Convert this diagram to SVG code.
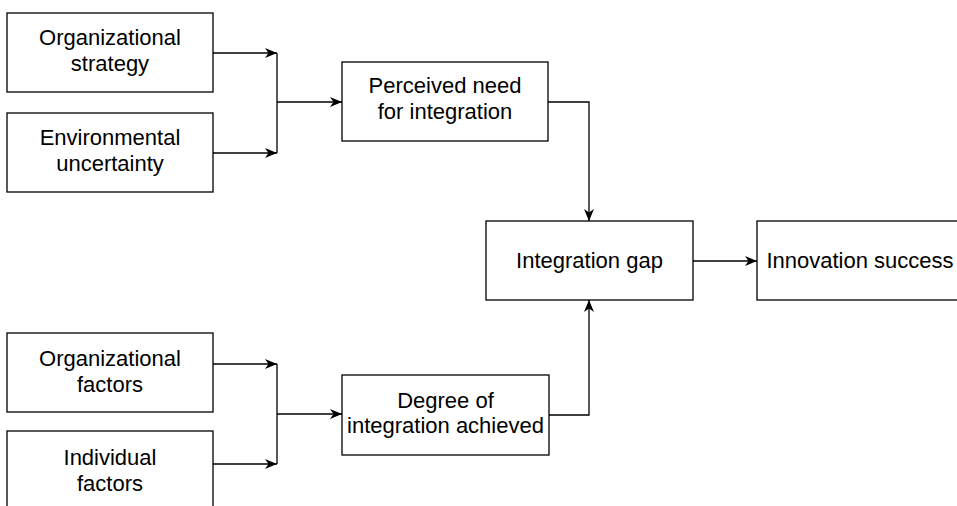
<svg xmlns="http://www.w3.org/2000/svg" width="957" height="506" viewBox="0 0 957 506">
  <style>
    .box { fill: #ffffff; stroke: #000000; stroke-width: 1.3; }
    .lbl { font-family: "Liberation Sans", Arial, Helvetica, sans-serif; font-size: 22px; fill: #000000; text-anchor: middle; }
    .wire { fill: none; stroke: #000000; stroke-width: 1.3; }
    .arr { fill: none; stroke: #000000; stroke-width: 1.3; marker-end: url(#head); }
  </style>
  <defs>
    <marker id="head" markerUnits="userSpaceOnUse" markerWidth="13" markerHeight="11" refX="12" refY="5" orient="auto">
      <path d="M0,0 L12,5 L0,10 L3.5,5 z" fill="#000000"/>
    </marker>
  </defs>
  <rect width="957" height="506" fill="#ffffff"/>

  <g id="connectors">
    <!-- upper inputs merge into perceived need -->
    <line class="arr" x1="213" y1="53" x2="277" y2="53"/>
    <line class="arr" x1="213" y1="153" x2="277" y2="153"/>
    <line class="wire" x1="277" y1="53" x2="277" y2="153"/>
    <line class="arr" x1="277" y1="102" x2="342" y2="102"/>
    <!-- perceived need to integration gap -->
    <polyline class="arr" points="548,102 589,102 589,221"/>
    <!-- lower inputs merge into degree achieved -->
    <line class="arr" x1="213" y1="364" x2="277" y2="364"/>
    <line class="arr" x1="213" y1="464" x2="277" y2="464"/>
    <line class="wire" x1="277" y1="364" x2="277" y2="464"/>
    <line class="arr" x1="277" y1="414" x2="342" y2="414"/>
    <!-- degree achieved to integration gap -->
    <polyline class="arr" points="549,415 589,415 589,300"/>
    <!-- integration gap to innovation success -->
    <line class="arr" x1="693" y1="261" x2="757" y2="261"/>
  </g>

  <g id="org-strategy">
    <rect class="box" x="7" y="13" width="206" height="79"/>
    <text class="lbl" x="110" y="45">Organizational</text>
    <text class="lbl" x="110" y="71">strategy</text>
  </g>
  <g id="env-uncertainty">
    <rect class="box" x="7" y="113" width="206" height="79"/>
    <text class="lbl" x="110" y="145">Environmental</text>
    <text class="lbl" x="110" y="171">uncertainty</text>
  </g>
  <g id="perceived-need">
    <rect class="box" x="342" y="62" width="206" height="79"/>
    <text class="lbl" x="445" y="93">Perceived need</text>
    <text class="lbl" x="445" y="119">for integration</text>
  </g>
  <g id="integration-gap">
    <rect class="box" x="486" y="221" width="207" height="79"/>
    <text class="lbl" x="589.5" y="268">Integration gap</text>
  </g>
  <g id="innovation-success">
    <rect class="box" x="757" y="221" width="207" height="79"/>
    <text class="lbl" x="860" y="268">Innovation success</text>
  </g>
  <g id="org-factors">
    <rect class="box" x="7" y="333" width="206" height="79"/>
    <text class="lbl" x="110" y="366">Organizational</text>
    <text class="lbl" x="110" y="392">factors</text>
  </g>
  <g id="individual-factors">
    <rect class="box" x="7" y="431" width="206" height="79"/>
    <text class="lbl" x="110" y="465">Individual</text>
    <text class="lbl" x="110" y="491">factors</text>
  </g>
  <g id="degree-achieved">
    <rect class="box" x="342" y="375" width="207" height="80"/>
    <text class="lbl" x="445.5" y="408">Degree of</text>
    <text class="lbl" x="445.5" y="433">integration achieved</text>
  </g>
</svg>
